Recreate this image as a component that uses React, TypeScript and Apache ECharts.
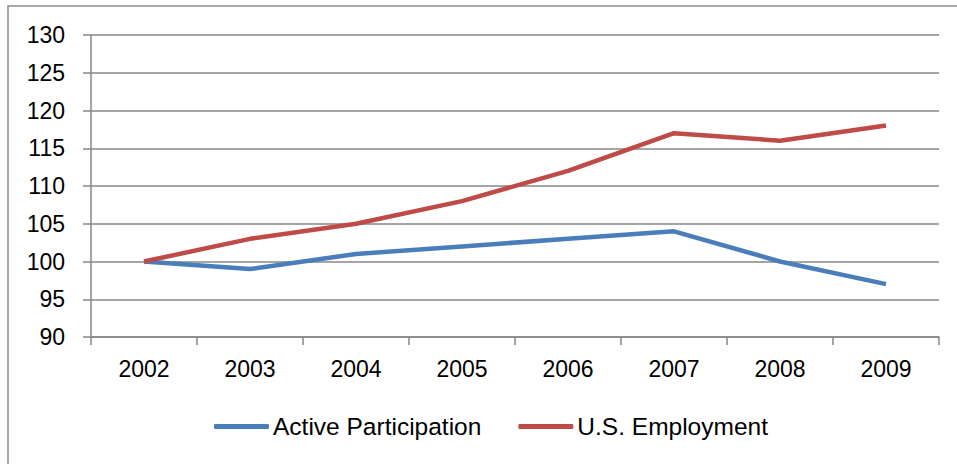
import React, { useEffect, useRef } from "react";
import * as echarts from "echarts";

const years = ["2002", "2003", "2004", "2005", "2006", "2007", "2008", "2009"];
const activeParticipation = [100, 99, 101, 102, 103, 104, 100, 97];
const usEmployment = [100, 103, 105, 108, 112, 117, 116, 118];
const seriesNames = ["Active Participation", "U.S. Employment"];
const yMin = 90;
const yMax = 130;
const yStep = 5;

const FONT = "'Liberation Sans', Arial, sans-serif";
const GRID = "#878787";
const BLUE = "#4A7EBB";
const RED = "#BE4B48";

export default function App() {
  const ref = useRef<HTMLDivElement>(null);
  useEffect(() => {
    if (!ref.current) return;
    const chart = echarts.init(ref.current, undefined, { renderer: "svg" });
    chart.setOption({
      animation: false,
      backgroundColor: "#ffffff",
      textStyle: { fontFamily: FONT },
      graphic: [
        {
          type: "rect",
          shape: { x: 8, y: 6, width: 1200, height: 1000 },
          style: { fill: "none", stroke: "#8c8c8c", lineWidth: 1.5 },
          silent: true,
        },
      ],
      grid: { left: 91, right: 18, top: 35, bottom: 127, containLabel: false },
      legend: {
        left: 214,
        top: 414,
        padding: 0,
        icon: "roundRect",
        itemWidth: 55,
        itemHeight: 5,
        itemGap: 37,
        textStyle: { fontSize: 24.5, color: "#000", fontFamily: FONT, padding: [0, 0, 0, -1] },
        data: seriesNames,
      },
      xAxis: {
        type: "category",
        data: years,
        boundaryGap: true,
        axisLine: { lineStyle: { color: GRID, width: 1.5 } },
        axisTick: { show: true, length: 8, lineStyle: { color: GRID, width: 1.5 } },
        axisLabel: { fontSize: 23, color: "#000", margin: 20, fontFamily: FONT },
        splitLine: { show: false },
      },
      yAxis: {
        type: "value",
        min: yMin,
        max: yMax,
        interval: yStep,
        axisLine: { show: true, lineStyle: { color: GRID, width: 1.5 } },
        axisTick: { show: true, length: 8, lineStyle: { color: GRID, width: 1.5 } },
        axisLabel: { fontSize: 23, color: "#000", margin: 26, fontFamily: FONT },
        splitLine: { show: true, lineStyle: { color: GRID, width: 1.5 } },
      },
      series: [
        {
          name: seriesNames[0],
          type: "line",
          data: activeParticipation,
          symbol: "none",
          lineStyle: { color: BLUE, width: 4.5 },
          itemStyle: { color: BLUE },
        },
        {
          name: seriesNames[1],
          type: "line",
          data: usEmployment,
          symbol: "none",
          lineStyle: { color: RED, width: 4.5 },
          itemStyle: { color: RED },
        },
      ],
    });
    return () => chart.dispose();
  }, []);
  return (
    <div
      ref={ref}
      style={{ position: "fixed", left: 0, top: 0, width: 957, height: 464 }}
    />
  );
}
